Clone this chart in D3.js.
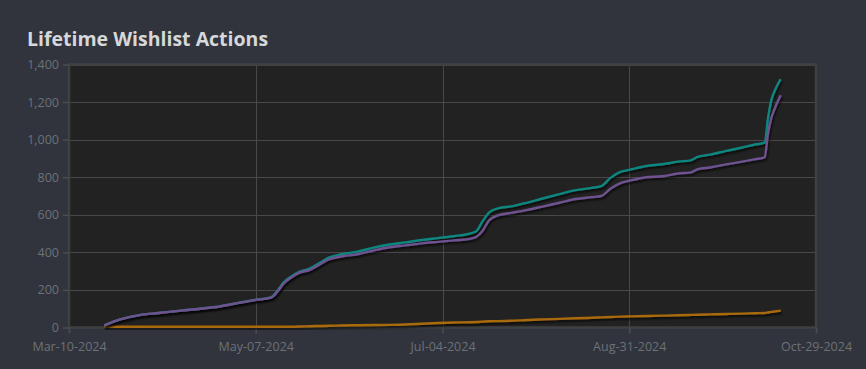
<!DOCTYPE html>
<html>
<head>
<meta charset="utf-8">
<script src="https://cdn.jsdelivr.net/npm/d3@7"></script>
<style>
html,body{margin:0;padding:0;background:#31343c;}
svg{display:block;}
</style>
</head>
<body>
<svg id="chart" width="866" height="369"></svg>
<script>
// ---- data ----
const title = "Lifetime Wishlist Actions";
const dayOffsets = [11,16,22,28,35,41,47,53,58,63,65,67,69,72,75,78,81,85,90,95,100,105,110,115,120,125,127,129,131,134,138,143,148,153,158,163,166,169,172,175,180,185,190,194,196,200,205,210,214,217,218,219,220,222];
const startDate = "2024-03-10";
const endDate = "2024-10-29";
const addsSeries = [11,43,66,77,90,100,112,132,147,160,195,240,268,298,313,342,372,390,404,425,442,453,466,476,486,500,512,565,612,635,645,665,688,710,731,743,752,798,828,840,860,869,883,890,908,920,940,958,974,984,1110,1205,1255,1322];
const outstandingSeries = [11,43,66,77,90,100,112,131,146,159,190,234,262,292,306,333,362,378,390,410,427,437,448,456,464,472,482,515,570,598,610,626,645,664,684,694,700,740,768,782,800,805,820,826,842,852,868,883,896,906,1030,1112,1160,1236];
const deletesSeries = [4,4,4,4,4,4,4,4,4,4,4,4,4,5,7,8,9,11,12,13,14,16,20,24,27,28,29,31,33,34,36,40,43,46,49,52,54,56,58,59,61,63,65,67,68,70,72,74,76,77,80,83,85,90];
const purchasesSeries = dayOffsets.map(() => 6);
const yTicks = [0,200,400,600,800,1000,1200,1400];
const seriesColors = ["#11867f","#6e5290","#a96a0c","#9a9c88"];

// ---- layout ----
const svg = d3.select("#chart");
const L = 69, R = 816, T = 64.5, B = 327.5;
const parse = d3.utcParse("%Y-%m-%d");
const d0 = parse(startDate), d1 = parse(endDate);
const dates = dayOffsets.map(n => d3.utcDay.offset(d0, n));

const x = d3.scaleUtc().domain([d0, d1]).range([L, R]);
const y = d3.scaleLinear().domain([0, 1400]).range([B, T]);

// shadow filter
const defs = svg.append("defs");
const f = defs.append("filter").attr("id","sh").attr("x","-5%").attr("y","-5%").attr("width","110%").attr("height","120%");
f.append("feDropShadow").attr("dx",1).attr("dy",2).attr("stdDeviation",1.2).attr("flood-color","#000").attr("flood-opacity",0.75);

// title
svg.append("text").attr("x",27).attr("y",46).text(title)
  .attr("font-family","'Open Sans', sans-serif").attr("font-weight",700).attr("font-size",19.5)
  .attr("fill","#d6d8db");

// plot background
svg.append("rect").attr("x",L).attr("y",T).attr("width",R-L).attr("height",B-T)
  .attr("fill","#222222");

// grid
const xTicks = d3.range(5).map(i => new Date(+d0 + (d1 - d0) * i / 4));
svg.append("g").selectAll("line").data(yTicks.slice(1)).join("line")
  .attr("x1",L).attr("x2",R).attr("y1",d=>Math.round(y(d))+0.5).attr("y2",d=>Math.round(y(d))+0.5)
  .attr("stroke","#484848").attr("stroke-width",1);
svg.append("g").selectAll("line").data(xTicks.slice(1,4)).join("line")
  .attr("x1",d=>Math.round(x(d))+0.5).attr("x2",d=>Math.round(x(d))+0.5).attr("y1",T).attr("y2",B)
  .attr("stroke","#484848").attr("stroke-width",1);

// frame
svg.append("rect").attr("x",L).attr("y",T).attr("width",R-L).attr("height",B-T)
  .attr("fill","none").attr("stroke","#3f4042").attr("stroke-width",2.5);

// axes
const fmt = d3.utcFormat("%b-%d-%Y");
const yAxis = svg.append("g").attr("transform",`translate(${L},0)`)
  .call(d3.axisLeft(y).tickValues(yTicks).tickFormat(d3.format(",")).tickSizeOuter(0).tickSize(6).tickPadding(4));
const xAxis = svg.append("g").attr("transform",`translate(0,${B})`)
  .call(d3.axisBottom(x).tickValues(xTicks).tickFormat(fmt).tickSizeOuter(0).tickSize(6).tickPadding(9));
[yAxis, xAxis].forEach(g => {
  g.select(".domain").remove();
  g.selectAll(".tick line").attr("stroke","#4a4c50").attr("stroke-width",1.5);
  g.selectAll(".tick text").attr("fill","#6c7178").attr("font-family","'Open Sans', sans-serif").attr("font-size",12.5);
});

// lines
const series = [purchasesSeries, deletesSeries, outstandingSeries, addsSeries];
const cols = [seriesColors[3], seriesColors[2], seriesColors[1], seriesColors[0]];
const line = d3.line().x((d,i)=>x(dates[i])).y(d=>y(d)).curve(d3.curveMonotoneX);
// drawing order: deletes, purchases, adds, outstanding (purple on top of teal)
const order = [1,0,3,2];
order.forEach(k => {
  svg.append("path").datum(series[k]).attr("d",line)
    .attr("fill","none").attr("stroke",cols[k]).attr("stroke-width",k===0?2:2.4)
    .attr("stroke-linejoin","round").attr("filter","url(#sh)");
});
</script>
</body>
</html>
